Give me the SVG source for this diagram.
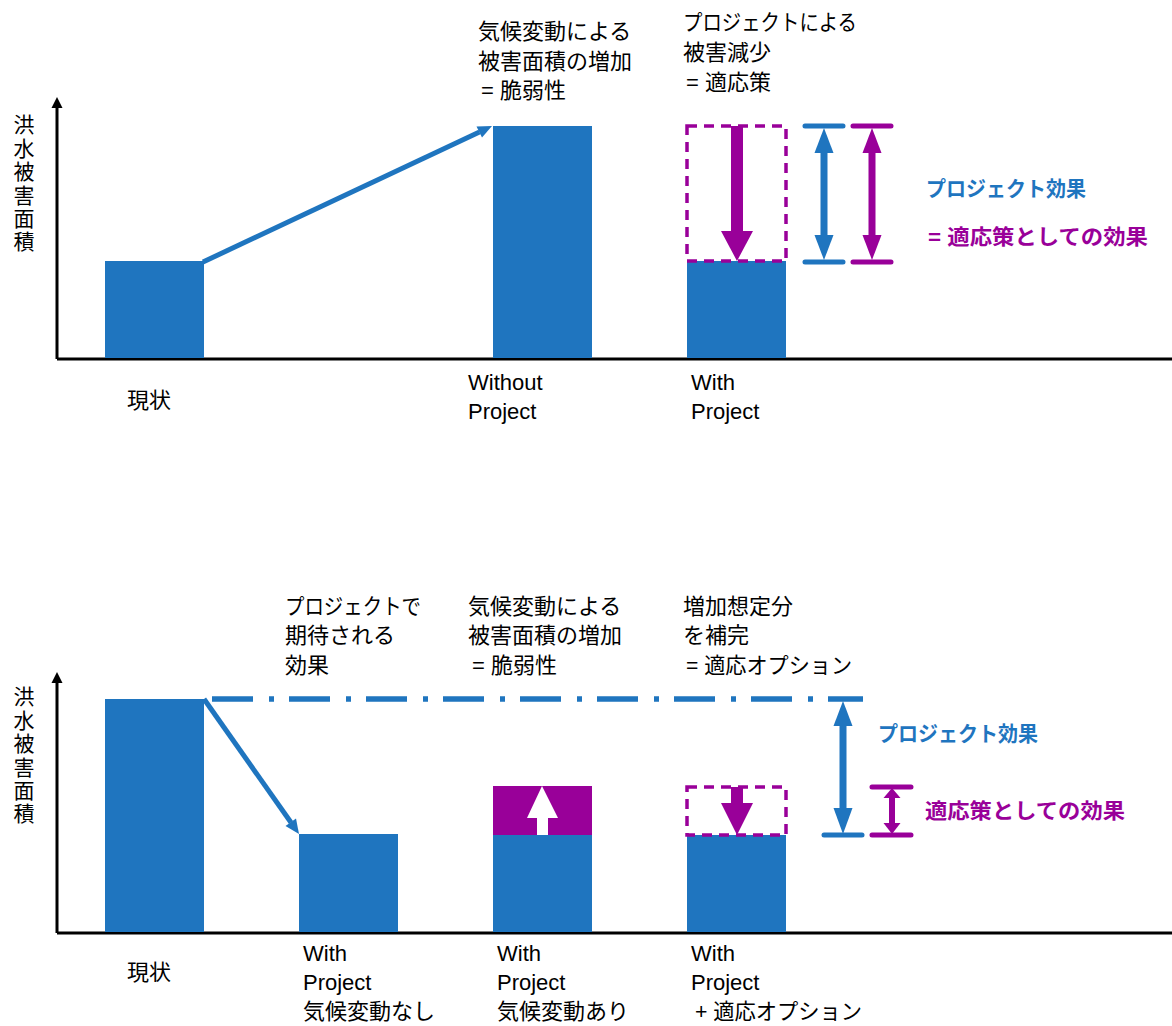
<svg xmlns="http://www.w3.org/2000/svg" width="1172" height="1026" viewBox="0 0 1172 1026">
<style>
.t{font-family:"Liberation Sans","Noto Sans CJK JP",sans-serif;font-size:22px;fill:#000}
.yl{font-family:"Noto Sans CJK JP",sans-serif;font-size:21px;fill:#000;writing-mode:vertical-rl;letter-spacing:2.4px}
.bb{font-family:"Liberation Sans","Noto Sans CJK JP",sans-serif;font-size:21px;font-weight:bold;fill:#1F75BF}
.bp{font-family:"Liberation Sans","Noto Sans CJK JP",sans-serif;font-size:21px;font-weight:bold;fill:#990099}
.blue{fill:#1F75BF}
.purple{fill:#990099}
.axis{stroke:#000;stroke-width:3;fill:none}
.bl{stroke:#1F75BF;stroke-width:5;fill:none}
.cb{stroke:#1F75BF;stroke-width:5;stroke-linecap:round;fill:none}
.cp{stroke:#990099;stroke-width:5;stroke-linecap:round;fill:none}
.dash{stroke:#990099;stroke-width:3.5;stroke-dasharray:10 7;fill:none}
.dd{stroke:#1F75BF;stroke-width:5.5;stroke-dasharray:41 16 5 15;fill:none}
</style>

<!-- ===== Top chart ===== -->
<g id="top-axes">
  <path class="axis" d="M57,359 V104 M57,359 H1172"/>
  <polygon points="57,97 51.5,108 62.5,108" fill="#000"/>
  <text class="yl" x="24" y="114">洪水被害面積</text>
</g>
<g id="top-bar-current">
  <rect class="blue" x="105" y="261" width="99" height="97"/>
  <text class="t" x="127" y="408">現状</text>
</g>
<g id="top-bar-without">
  <rect class="blue" x="493" y="126" width="99" height="232"/>
  <text class="t" x="468" y="390">Without</text>
  <text class="t" x="468" y="419">Project</text>
  <text class="t" x="478" y="39">気候変動による</text>
  <text class="t" x="478" y="68.5">被害面積の増加</text>
  <text class="t" x="481" y="98">= 脆弱性</text>
</g>
<g id="top-bar-with">
  <rect class="blue" x="687" y="261" width="99" height="97"/>
  <rect class="dash" x="687" y="126" width="99" height="135"/>
  <text class="t" x="691" y="390">With</text>
  <text class="t" x="691" y="419">Project</text>
  <text class="t" x="683" y="30" textLength="174" lengthAdjust="spacingAndGlyphs">プロジェクトによる</text>
  <text class="t" x="683" y="60">被害減少</text>
  <text class="t" x="686" y="90">= 適応策</text>
</g>
<g id="top-legend">
  <text class="bb" x="926" y="196" textLength="160" lengthAdjust="spacingAndGlyphs">プロジェクト効果</text>
  <text class="bp" x="928" y="244" textLength="220" lengthAdjust="spacingAndGlyphs">= 適応策としての効果</text>
</g>

<!-- ===== Bottom chart ===== -->
<g id="bottom-axes">
  <path class="axis" d="M57,933 V679 M57,933 H1172"/>
  <polygon points="57,672 51.5,683 62.5,683" fill="#000"/>
  <text class="yl" x="24" y="686">洪水被害面積</text>
</g>
<g id="bottom-bar-current">
  <rect class="blue" x="105" y="699" width="99" height="233"/>
  <text class="t" x="127" y="980">現状</text>
  <text class="t" x="285" y="613.5" textLength="136" lengthAdjust="spacingAndGlyphs">プロジェクトで</text>
  <text class="t" x="285" y="643">期待される</text>
  <text class="t" x="285" y="672.5">効果</text>
</g>
<g id="bottom-bar-noclimate">
  <rect class="blue" x="299" y="834" width="99" height="98"/>
  <text class="t" x="303" y="961">With</text>
  <text class="t" x="303" y="990">Project</text>
  <text class="t" x="303" y="1019">気候変動なし</text>
</g>
<g id="bottom-bar-climate">
  <rect class="purple" x="493" y="786" width="99" height="49"/>
  <rect class="blue" x="493" y="835" width="99" height="97"/>
  <polygon points="542,786 558,818 548,818 548,835 537,835 537,818 527,818" fill="#fff"/>
  <text class="t" x="497" y="961">With</text>
  <text class="t" x="497" y="990">Project</text>
  <text class="t" x="497" y="1019">気候変動あり</text>
  <text class="t" x="468" y="613.5">気候変動による</text>
  <text class="t" x="468" y="643">被害面積の増加</text>
  <text class="t" x="472" y="672.5">= 脆弱性</text>
</g>
<g id="bottom-bar-option">
  <rect class="blue" x="687" y="835" width="99" height="97"/>
  <rect class="dash" x="687" y="787" width="99" height="48"/>
  <text class="t" x="691" y="961">With</text>
  <text class="t" x="691" y="990">Project</text>
  <text class="t" x="695" y="1019" textLength="167" lengthAdjust="spacingAndGlyphs">+ 適応オプション</text>
  <text class="t" x="683" y="613.5">増加想定分</text>
  <text class="t" x="683" y="643">を補完</text>
  <text class="t" x="686" y="672.5" textLength="166" lengthAdjust="spacingAndGlyphs">= 適応オプション</text>
</g>
<g id="bottom-legend">
  <text class="bb" x="878" y="741" textLength="160" lengthAdjust="spacingAndGlyphs">プロジェクト効果</text>
  <text class="bp" x="925" y="818" textLength="200" lengthAdjust="spacingAndGlyphs">適応策としての効果</text>
</g>

<!-- ===== Connectors ===== -->
<g id="connectors">
  <path class="bl" d="M203,262 L479.5,132"/>
  <polygon class="blue" points="492,126 482,137.5 476.5,126.5"/>
  <rect class="purple" x="731" y="126" width="12" height="106"/>
  <polygon class="purple" points="721,231 753,231 737,261"/>
  <path class="cb" d="M805,126 H843 M805,262 H843"/>
  <rect class="blue" x="820.5" y="150" width="7" height="88"/>
  <polygon class="blue" points="824,128 833.5,153 814.5,153"/>
  <polygon class="blue" points="824,260 833.5,235 814.5,235"/>
  <path class="cp" d="M853,126 H891 M853,262 H891"/>
  <rect class="purple" x="868.5" y="150" width="7" height="88"/>
  <polygon class="purple" points="872,128 881.5,153 862.5,153"/>
  <polygon class="purple" points="872,260 881.5,235 862.5,235"/>

  <path class="bl" d="M204,699 L291,822.5"/>
  <polygon class="blue" points="299,834 296,818.5 285.5,826"/>
  <path class="dd" d="M212,699 H863"/>
  <rect class="purple" x="731" y="787" width="12" height="17"/>
  <polygon class="purple" points="721,803 753,803 737,835"/>
  <path class="cb" d="M824,835 H862"/>
  <rect class="blue" x="839.5" y="722" width="7" height="90"/>
  <polygon class="blue" points="843,701 852.5,726 833.5,726"/>
  <polygon class="blue" points="843,834 852.5,808 833.5,808"/>
  <path class="cp" d="M872,787 H911 M872,835 H911"/>
  <rect class="purple" x="889" y="795" width="6" height="30"/>
  <polygon class="purple" points="892,788 900.5,798 883.5,798"/>
  <polygon class="purple" points="892,834 900.5,823 883.5,823"/>
</g>
</svg>
